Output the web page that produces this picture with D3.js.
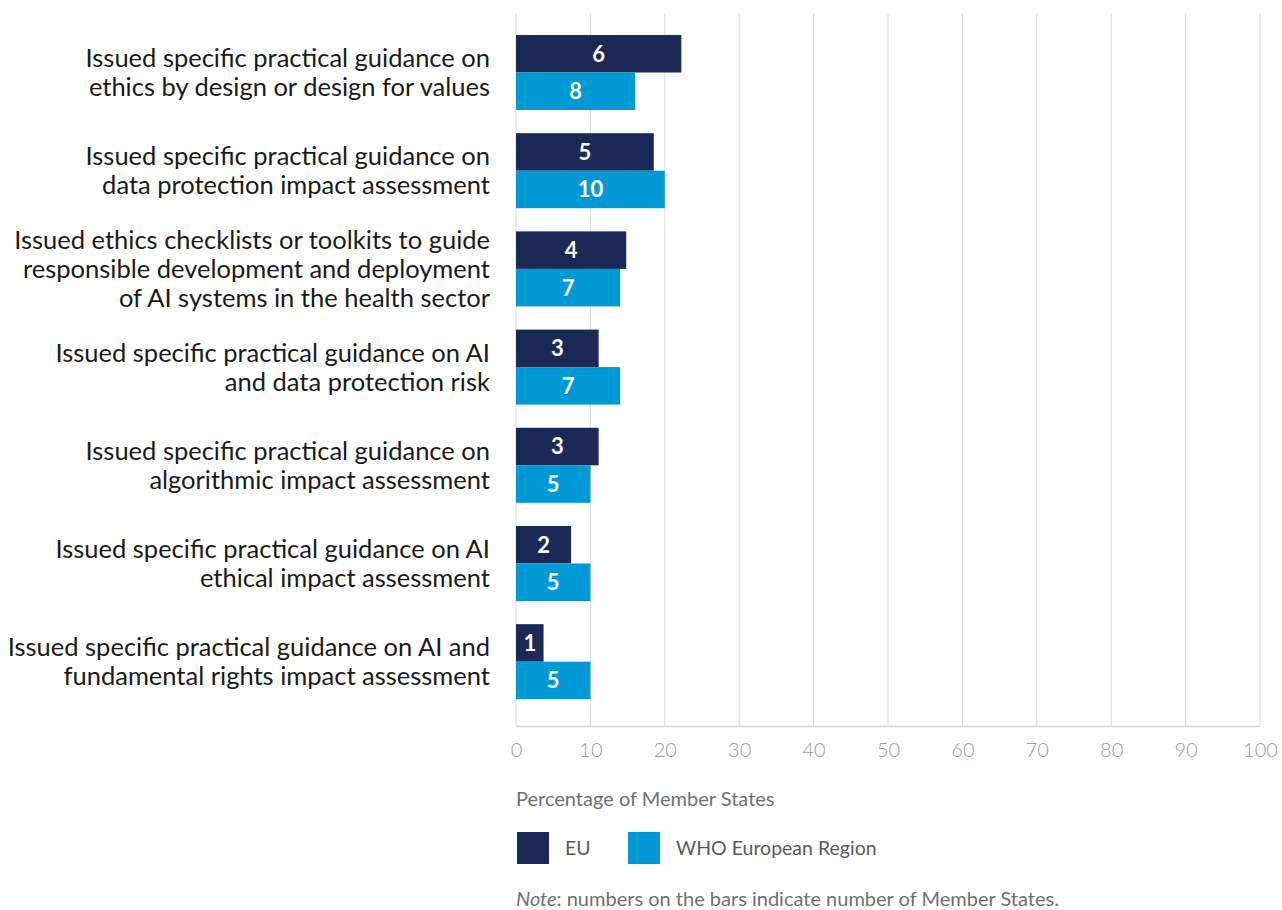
<!DOCTYPE html>
<html>
<head>
<meta charset="utf-8">
<script src="https://cdn.jsdelivr.net/npm/d3@7"></script>
<style>
  html, body { margin: 0; padding: 0; background: #fff; }
  svg { display: block; font-family: Lato, "Noto Sans", sans-serif; }
</style>
</head>
<body>
<svg id="chart" width="1282" height="910"></svg>
<script>
// Measures, top to bottom (label lines split where they wrap)
const categories = [
  ["Issued specific practical guidance on", "ethics by design or design for values"],
  ["Issued specific practical guidance on", "data protection impact assessment"],
  ["Issued ethics checklists or toolkits to guide", "responsible development and deployment", "of AI systems in the health sector"],
  ["Issued specific practical guidance on AI", "and data protection risk"],
  ["Issued specific practical guidance on", "algorithmic impact assessment"],
  ["Issued specific practical guidance on AI", "ethical impact assessment"],
  ["Issued specific practical guidance on AI and", "fundamental rights impact assessment"]
];
// Number of Member States per measure
const euCounts  = [6, 5, 4, 3, 3, 2, 1];
const whoCounts = [8, 10, 7, 7, 5, 5, 5];
// Member States in each group that the percentages refer to
const euTotal = 27;
const whoTotal = 50;
const seriesNames = ["EU", "WHO European Region"];
const xTicks = [0, 10, 20, 30, 40, 50, 60, 70, 80, 90, 100];

const colors = { "EU": "#1b2957", "WHO European Region": "#0099d5" };

const rows = categories.map((lines, i) => ({
  key: i,
  lines,
  values: [
    { series: "EU", count: euCounts[i], pct: euCounts[i] / euTotal * 100 },
    { series: "WHO European Region", count: whoCounts[i], pct: whoCounts[i] / whoTotal * 100 }
  ]
}));

const svg = d3.select("#chart");
const left = 516, right = 1260, gridTop = 14, gridBottom = 726;

const x = d3.scaleLinear().domain([0, 100]).range([left, right]);
const y = d3.scaleBand().domain(rows.map(r => r.key))
  .range([35, 699.2]).paddingInner(0.236).paddingOuter(0);
const ySub = d3.scaleBand().domain(seriesNames).range([0, y.bandwidth()]);

// vertical gridlines
svg.append("g").selectAll("line").data(xTicks).join("line")
  .attr("x1", d => x(d)).attr("x2", d => x(d))
  .attr("y1", gridTop).attr("y2", gridBottom)
  .attr("stroke", "#dcdcdc").attr("stroke-width", 1);

// x axis
const xAxis = svg.append("g").attr("transform", `translate(0,${gridBottom})`)
  .call(d3.axisBottom(x).tickValues(xTicks).tickSize(0).tickPadding(17));
xAxis.select(".domain").attr("stroke", "#d6d6d6").attr("stroke-width", 1.5);
xAxis.selectAll("text")
  .attr("fill", "#9a9a9a").attr("font-size", 20).attr("font-weight", 300)
  .attr("font-family", "Lato, sans-serif");

// bars
const groups = svg.append("g").selectAll("g").data(rows).join("g")
  .attr("transform", d => `translate(0,${y(d.key)})`);

groups.selectAll("rect").data(d => d.values).join("rect")
  .attr("x", x(0))
  .attr("y", d => ySub(d.series))
  .attr("width", d => x(d.pct) - x(0))
  .attr("height", ySub.bandwidth())
  .attr("fill", d => colors[d.series]);

groups.selectAll("text.val").data(d => d.values).join("text")
  .attr("class", "val")
  .attr("x", d => (x(0) + x(d.pct)) / 2)
  .attr("y", d => ySub(d.series) + ySub.bandwidth() / 2)
  .attr("dy", "0.36em")
  .attr("text-anchor", "middle")
  .attr("fill", "#fff").attr("font-weight", 700).attr("font-size", 22)
  .text(d => d.count);

// category labels
const lineH = 29;
groups.append("text")
  .attr("text-anchor", "end")
  .attr("fill", "#1a1a1a").attr("font-size", 25.5)
  .each(function (d) {
    const t = d3.select(this);
    const n = d.lines.length;
    const c = y.bandwidth() / 2;
    d.lines.forEach((ln, j) => {
      t.append("tspan").attr("x", 490)
        .attr("y", c + (j - (n - 1) / 2) * lineH)
        .attr("dy", "0.36em")
        .text(ln);
    });
  });

// axis title
svg.append("text").attr("x", left).attr("y", 806)
  .attr("fill", "#707070").attr("font-size", 20)
  .text("Percentage of Member States");

// legend
const legend = svg.append("g").selectAll("g").data(seriesNames).join("g")
  .attr("transform", (d, i) => `translate(${[517, 628][i]},832)`);
legend.append("rect").attr("width", 32).attr("height", 32).attr("fill", d => colors[d]);
legend.append("text").attr("x", 48).attr("y", 16).attr("dy", "0.36em")
  .attr("fill", "#5a5a5a").attr("font-size", 19.5).text(d => d);

// note
const note = svg.append("text").attr("x", left).attr("y", 906)
  .attr("fill", "#707070").attr("font-size", 20);
note.append("tspan").attr("font-style", "italic").text("Note");
note.append("tspan").text(": numbers on the bars indicate number of Member States.");
</script>
</body>
</html>
